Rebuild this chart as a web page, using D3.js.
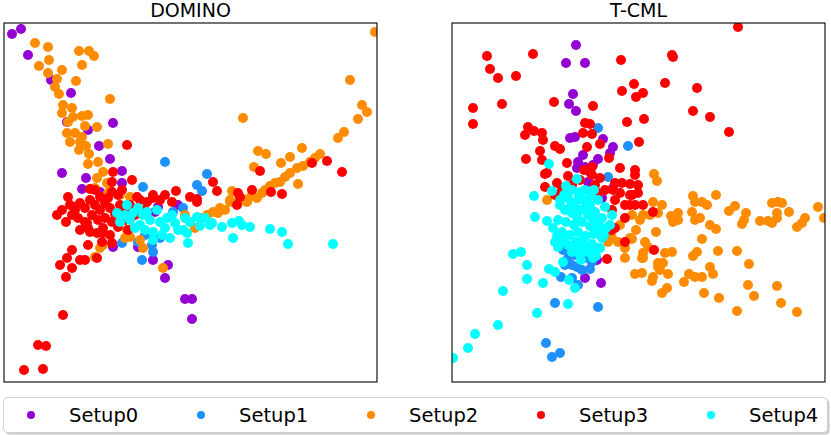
<!DOCTYPE html>
<html>
<head>
<meta charset="utf-8">
<script src="https://cdn.jsdelivr.net/npm/d3@7"></script>
<style>
  body { margin: 0; background: #fff; }
  text { font-family: "DejaVu Sans", sans-serif; }
</style>
</head>
<body>
<div id="vis"></div>
<script>
// setup names and colours
var setups = ["Setup0", "Setup1", "Setup2", "Setup3", "Setup4"];
var colorList = ["#9400d3", "#1e90ff", "#ff8c00", "#ff0000", "#00ffff"];

// DOMINO embedding, one list per setup
var domino0 = [[8,348],[17,353],[24,327],[47,302],[67,289],[63,260],[84,252],[109,259],[95,236],[106,223],
  [58,209],[82,204],[118,211],[118,199],[78,193],[96,190],[154,175],[134,135],[149,122],[164,117],
  [161,104],[109,135],[181,83],[188,83],[188,63],[151,170],[174,177]];
var domino1 = [[161,220],[139,195],[193,197],[203,208],[198,191],[169,170],[179,174],[138,122],[149,130],
  [118,139],[134,140],[148,137],[148,147],[156,144],[141,147]];
var domino2 = [[31,339],[44,335],[45,322],[35,316],[44,309],[58,312],[75,331],[85,331],[90,326],[78,317],
  [72,301],[53,303],[51,295],[55,288],[106,283],[59,277],[68,274],[58,269],[69,265],[78,266],[84,267],
  [64,260],[81,256],[93,255],[63,249],[71,249],[78,245],[66,240],[76,240],[82,236],[75,232],[104,238],
  [85,228],[94,220],[84,218],[99,210],[93,204],[103,199],[91,194],[104,189],[116,187],[106,192],[126,185],
  [371,350],[346,302],[239,264],[358,277],[363,270],[354,263],[340,250],[334,244],[254,231],[262,228],
  [286,225],[298,234],[277,219],[250,215],[316,228],[311,224],[306,220],[299,216],[293,214],[286,209],
  [281,205],[276,200],[271,199],[266,196],[261,192],[258,189],[294,198],[228,191],[226,182],[244,183],
  [226,180],[216,174],[209,170],[203,167],[196,164],[186,160],[191,154],[243,180],[253,184],[221,172],
  [234,179],[181,167],[214,169],[248,187],
  [159,114],[139,134],[121,144],[91,125],[96,134],[99,137],[123,152],[126,145],[136,142]];
var domino3 = [[123,237],[109,210],[128,202],[108,200],[86,193],[64,185],[96,185],[108,190],[133,185],
  [149,187],[161,187],[172,191],[186,185],[308,219],[323,221],[338,210],[256,211],[209,200],[213,191],
  [234,189],[236,185],[248,192],[267,190],[278,188],[193,183],[168,180],[193,180],[233,177],[53,167],
  [59,67],[34,37],[42,36],[20,12],[39,13],[56,117],[62,105],[68,114],[63,124],[68,132],[76,122],[81,122],
  [93,124],[84,137],[98,140],[108,139],[86,150],[83,159],[93,149],[143,180],[149,184],[71,175],[99,154],
  [66,177],[71,172],[76,179],[81,174],[86,182],[91,177],[96,172],[101,179],[106,174],[111,168],[116,177],
  [121,170],[74,164],[81,160],[88,167],[94,162],[101,164],[108,160],[114,155],[121,162],[68,167],[84,154],
  [99,149],[106,147],[104,184],[114,187],[126,177],[131,167],[118,192],[91,192],[58,172],[62,160],[76,152],
  [124,152],[136,182],[141,172],[156,182]];
var domino4 = [[113,169],[123,177],[116,160],[129,169],[139,167],[146,162],[156,160],[149,150],[149,142],
  [163,164],[171,159],[181,164],[179,152],[184,139],[193,165],[206,157],[218,155],[134,174],[126,162],
  [136,157],[143,170],[153,172],[161,154],[168,167],[174,152],[141,152],[131,154],[121,167],[158,147],
  [186,160],[196,156],[201,164],[166,144],[208,159],[228,159],[238,157],[246,155],[266,153],[278,150],
  [284,138],[229,144],[183,149],[329,138],[235,161]];

// T-CML embedding, one list per setup
var tcml0 = [[124,337],[114,319],[133,319],[121,288],[117,278],[124,271],[123,245],[118,244],[151,243],
  [161,235],[131,227],[146,223],[126,220],[141,217],[125,214],[161,194],[136,200],[133,215],[158,229],
  [150,184],[133,104],[149,99],[145,122],[138,210]];
var tcml1 = [[146,254],[176,236],[156,205],[103,79],[94,39],[100,25],[108,29],[146,75],[109,105],[120,104],
  [126,97],[120,117],[125,115],[130,112],[138,113],[113,117],[116,124],[133,124],[123,127],[140,120],[111,132]];
var tcml2 = [[146,188],[95,182],[202,208],[205,201],[241,186],[264,187],[250,180],[243,180],[255,177],
  [201,180],[210,177],[191,167],[198,167],[206,169],[219,166],[226,169],[221,160],[226,162],[240,170],
  [243,162],[248,164],[258,157],[264,153],[277,171],[283,176],[294,169],[292,162],[290,158],[308,161],
  [320,179],[326,180],[330,179],[325,169],[325,164],[316,161],[320,159],[337,170],[353,164],[350,159],
  [345,155],[366,175],[372,164],[184,152],[204,150],[180,143],[250,143],[193,140],[196,135],[191,129],
  [191,124],[213,129],[220,130],[245,130],[241,126],[266,131],[285,131],[297,118],[206,119],[211,119],
  [206,115],[208,112],[216,108],[183,108],[190,109],[201,105],[200,101],[232,100],[237,108],[243,105],
  [250,105],[258,115],[261,108],[215,94],[210,89],[252,89],[267,84],[296,97],[302,86],[325,96],[329,79],
  [285,71],[345,70],[173,124],[190,124],[156,140],[166,140],[173,134],[178,144],[188,162],[168,157],
  [180,167],[160,144]];
var tcml3 = [[35,326],[81,328],[38,313],[46,304],[64,306],[21,274],[21,258],[50,278],[102,280],[141,276],
  [169,322],[182,298],[170,291],[184,285],[175,260],[192,263],[187,240],[76,255],[73,247],[82,251],
  [90,249],[91,242],[103,236],[108,233],[88,231],[74,223],[90,222],[115,219],[133,259],[140,248],[131,249],
  [148,238],[135,235],[157,224],[93,208],[105,199],[93,195],[116,206],[140,215],[132,212],[163,199],
  [170,199],[178,198],[183,207],[168,214],[186,197],[186,189],[113,189],[286,355],[220,327],[221,325],
  [191,289],[213,299],[245,294],[241,271],[258,265],[277,250],[183,212],[180,187],[201,170],[202,132],
  [178,177],[183,177],[191,177],[138,258],[95,209],[140,207],[128,202],[111,192],[161,192],[168,189],
  [163,182],[178,187],[173,164],[146,189],[155,123],[110,192],[173,140],[160,152],[153,149],[163,154],
  [120,197],[148,204],[153,192],[143,197],[103,187],[173,177],[160,172]];
var tcml4 = [[97,218],[125,203],[114,196],[100,191],[128,190],[82,186],[139,186],[83,165],[1,24],[16,34],
  [23,48],[46,57],[51,91],[85,69],[61,128],[69,130],[75,117],[75,103],[91,99],[95,161],[97,113],[103,110],
  [111,120],[116,78],[117,102],[123,94],[129,122],[141,124],[144,134],[108,177],[103,140],[106,135],
  [108,182],[116,184],[123,179],[131,182],[138,177],[146,182],[153,175],[113,172],[120,169],[128,172],
  [136,167],[143,170],[150,164],[106,162],[114,160],[122,157],[130,160],[138,156],[146,158],[154,154],
  [110,150],[118,147],[126,150],[134,146],[142,148],[150,144],[116,137],[124,140],[132,136],[140,138],
  [148,134],[120,130],[128,127],[136,130],[144,126],[101,154],[160,167],[158,157],[133,192],[120,192],
  [112,187],[127,186],[142,192],[119,176],[134,174],[125,165],[141,163],[111,141],[131,143],[145,151],
  [124,133],[140,131],[152,147],[105,146]];

var panels = [
  {title: "DOMINO", left: 4, series: [domino0, domino1, domino2, domino3, domino4]},
  {title: "T-CML", left: 452, series: [tcml0, tcml1, tcml2, tcml3, tcml4]}
];

var w = 831, h = 435;
var plotTop = 23, plotW = 373, plotH = 359;

var svg = d3.select("#vis").append("svg")
  .attr("width", w)
  .attr("height", h);

var colors = d3.scaleOrdinal().domain(setups).range(colorList);

panels.forEach(function(p) {
  var x_scale = d3.scaleLinear().domain([0, 373]).range([p.left, p.left + plotW]);
  var y_scale = d3.scaleLinear().domain([0, 359]).range([plotTop + plotH, plotTop]);

  var g = svg.append("g");

  // clip so points stay inside the frame
  var clipId = "clip-" + p.left;
  svg.append("clipPath").attr("id", clipId)
    .append("rect")
    .attr("x", p.left).attr("y", plotTop)
    .attr("width", plotW).attr("height", plotH);

  var pts = g.append("g").attr("clip-path", "url(#" + clipId + ")");

  p.series.forEach(function(s, i) {
    pts.selectAll(null)
      .data(s)
      .enter()
      .append("circle")
      .attr("cx", d => x_scale(d[0]))
      .attr("cy", d => y_scale(d[1]))
      .attr("r", 5)
      .attr("fill", colors(setups[i]));
  });

  g.append("rect")
    .attr("x", p.left).attr("y", plotTop)
    .attr("width", plotW).attr("height", plotH)
    .attr("fill", "none")
    .attr("stroke", "#000")
    .attr("stroke-width", 1.1);

  g.append("text")
    .attr("x", p.left + plotW / 2)
    .attr("y", 17)
    .attr("text-anchor", "middle")
    .attr("font-size", "19px")
    .attr("fill", "#000")
    .text(p.title);
});

// legend
var legend = svg.append("g");
legend.append("rect")
  .attr("x", 5.5).attr("y", 399.5)
  .attr("width", 824).attr("height", 35)
  .attr("rx", 4)
  .attr("fill", "#999")
  .attr("opacity", 0.5);
legend.append("rect")
  .attr("x", 3.5).attr("y", 397.5)
  .attr("width", 824).attr("height", 35)
  .attr("rx", 4)
  .attr("fill", "#fff")
  .attr("stroke", "#d0d0d0")
  .attr("stroke-width", 1);

var legendX = d3.scalePoint().domain(setups).range([31, 711]);

var item = legend.selectAll(".item")
  .data(setups)
  .enter()
  .append("g")
  .attr("transform", d => `translate(${legendX(d)},415)`);

item.append("circle")
  .attr("r", 4)
  .attr("fill", d => colors(d));

item.append("text")
  .attr("x", 38)
  .attr("y", 7)
  .attr("font-size", "19.5px")
  .attr("fill", "#000")
  .text(d => d);
</script>
</body>
</html>
